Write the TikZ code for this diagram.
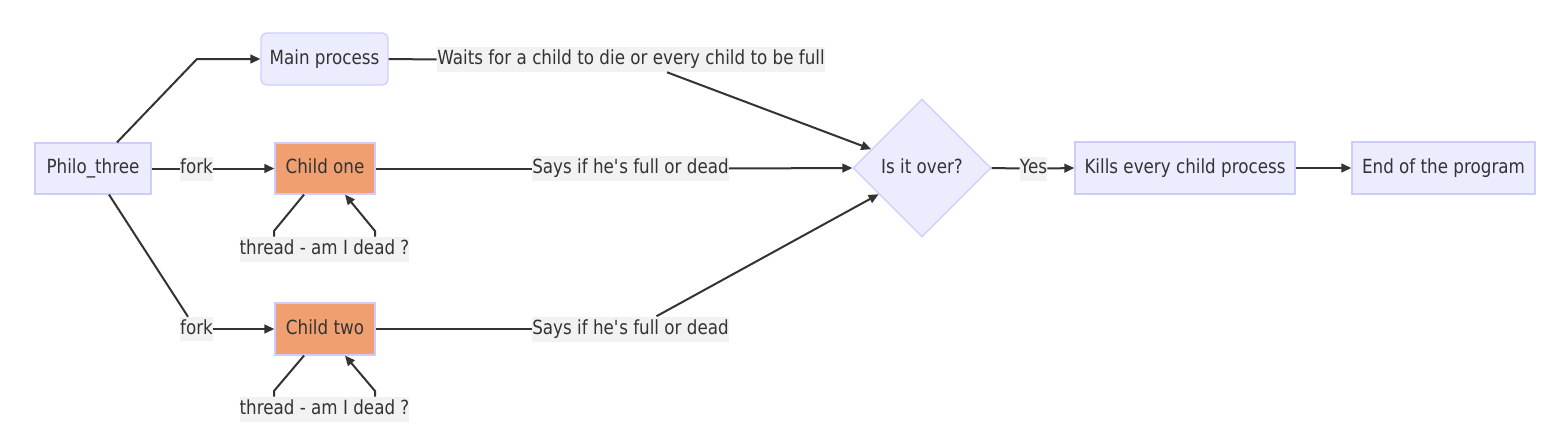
\documentclass[tikz,border=0pt]{standalone}
\usepackage{fontspec}
\setmainfont{DejaVu Sans}[FakeStretch=0.86]
\usetikzlibrary{arrows.meta,shapes.geometric,calc}
\definecolor{nodefill}{HTML}{ECECFF}
\definecolor{nodeline}{HTML}{CCCCFF}
\definecolor{orangefill}{HTML}{F0A070}
\definecolor{lblfill}{HTML}{F2F2F2}
\definecolor{txt}{HTML}{333333}
\definecolor{edgecol}{HTML}{333333}
\tikzset{
  box/.style={draw=nodeline, fill=nodefill, line width=0.9pt, text=txt, inner sep=0pt, text height=0.76em, text depth=0pt},
  orangebox/.style={box, fill=orangefill},
  lbl/.style={fill=lblfill, text=txt, inner sep=0pt, text height=0.76em, text depth=0pt},
  wd/.style={minimum width=#1*0.75pt},
  ht/.style={minimum height=#1*0.75pt},
  edge/.style={draw=edgecol, line width=1.5pt},
  arr/.style={edge, -{Triangle[length=7.5pt,width=6.5pt]}},
}
\begin{document}
\begin{tikzpicture}[x=0.75pt,y=-0.75pt, font=\fontsize{14.6}{17}\selectfont]
\useasboundingbox (0,0) rectangle (1554,446);
% nodes
\node[box, wd=116, ht=51] (philo) at (93,168.5) {Philo\_three};
\node[box, rounded corners=4pt, wd=127, ht=52] (main) at (324.5,59) {Main process};
\node[orangebox, wd=100, ht=51] (c1) at (325,168.5) {Child one};
\node[orangebox, wd=100, ht=52] (c2) at (325,329) {Child two};
\node[lbl, wd=165, ht=25] (l1) at (324.5,249.5) {thread - am I dead ?};
\node[lbl, wd=165, ht=25] (l2) at (324.5,409.5) {thread - am I dead ?};
\node[lbl, wd=33, ht=24] (fork1) at (196.5,168.5) {fork};
\node[lbl, wd=33, ht=24] (fork2) at (196.5,329) {fork};
\node[lbl, wd=388, ht=25] (wait) at (631,59.5) {Waits for a child to die or every child to be full};
\node[lbl, wd=189, ht=25] (says1) at (630.5,168.5) {Says if he\textquotesingle s full or dead};
\node[lbl, wd=189, ht=25] (says2) at (630.5,329) {Says if he\textquotesingle s full or dead};
\node[box, diamond, aspect=1, wd=138, ht=138] (dia) at (922,168) {Is it over?};
\node[lbl, wd=27, ht=24] (yes) at (1033.5,168.5) {Yes};
\node[box, wd=220, ht=52] (kills) at (1185,168) {Kills every child process};
\node[box, wd=183, ht=52] (end) at (1443.5,168) {End of the program};
% edges
\draw[arr] ([xshift=24*0.75pt]philo.north) -- (197,59) -- (main.west);
\draw[edge] (philo.east) -- (fork1.west);
\draw[arr] (fork1.east) -- (c1.west);
\draw[edge] ([xshift=16*0.75pt]philo.south) -- ([xshift=-8.5*0.75pt]fork2.north);
\draw[arr] (fork2.east) -- (c2.west);
% loops
\draw[edge] ([xshift=-21*0.75pt]c1.south) -- (274,231) -- ([xshift=-50.5*0.75pt]l1.north);
\draw[arr] ([xshift=50.5*0.75pt]l1.north) -- (375,231) -- ([xshift=20*0.75pt]c1.south);
\draw[edge] ([xshift=-21*0.75pt]c2.south) -- (274,391) -- ([xshift=-50.5*0.75pt]l2.north);
\draw[arr] ([xshift=50.5*0.75pt]l2.north) -- (375,391) -- ([xshift=20*0.75pt]c2.south);
% to diamond
\draw[edge] (main.east) -- (wait.west);
\draw[arr] ([xshift=36*0.75pt]wait.south) -- ($(dia.west)!0.27!(dia.north)$);
\draw[edge] (c1.east) -- (says1.west);
\draw[arr] (says1.east) -- (dia.west);
\draw[edge] (c2.east) -- (says2.west);
\draw[arr] ([xshift=26*0.75pt]says2.north) -- ($(dia.west)!0.377!(dia.south)$);
% right part
\draw[edge] (dia.east) -- (yes.west);
\draw[arr] (yes.east) -- (kills.west);
\draw[arr] (kills.east) -- (end.west);
\end{tikzpicture}
\end{document}
